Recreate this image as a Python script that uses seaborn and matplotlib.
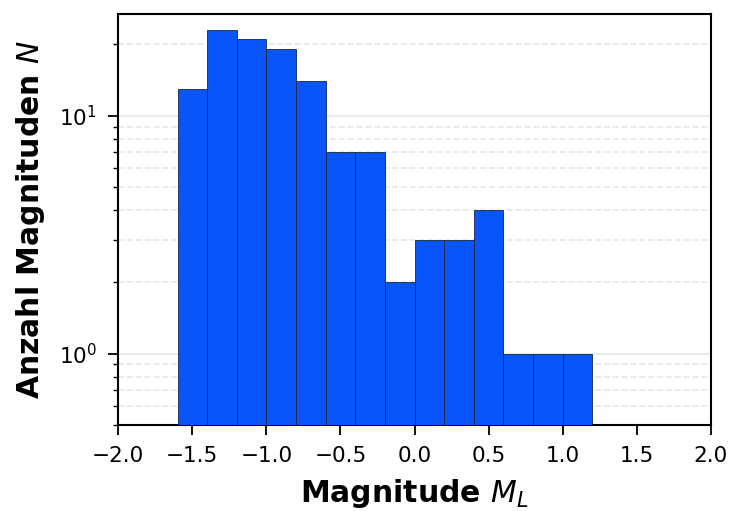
import numpy as np
import matplotlib
matplotlib.use('Agg')
import matplotlib.pyplot as plt
import seaborn as sns
from matplotlib.ticker import LogLocator, NullFormatter

# Histogram data (bin width 0.2)
bin_edges = [-1.6, -1.4, -1.2, -1.0, -0.8, -0.6, -0.4, -0.2, 0.0, 0.2, 0.4, 0.6, 0.8, 1.0, 1.2]
counts = [13, 23, 21, 19, 14, 7, 7, 2, 3, 3, 4, 1, 1, 1]
bin_centers = [(a + b) / 2 for a, b in zip(bin_edges[:-1], bin_edges[1:])]
x_ticks = [-2.0, -1.5, -1.0, -0.5, 0.0, 0.5, 1.0, 1.5, 2.0]

sns.set_style('white')
plt.rcParams['font.family'] = ['DejaVu Sans']
plt.rcParams['text.color'] = 'black'
plt.rcParams['axes.labelcolor'] = 'black'
plt.rcParams['xtick.color'] = 'black'
plt.rcParams['ytick.color'] = 'black'
plt.rcParams['xtick.labelsize'] = 15.5
plt.rcParams['ytick.labelsize'] = 15.5

fig, ax = plt.subplots(figsize=(7.39, 5.11), dpi=100)
fig.subplots_adjust(left=0.16, right=0.962, bottom=0.168, top=0.973)

sns.histplot(x=bin_centers, weights=counts, bins=bin_edges, ax=ax,
             color='#0a55fa', alpha=1.0, edgecolor='#14244a', linewidth=0.6,
             zorder=3)

ax.set_yscale('log')
ax.set_ylim(0.5, 26.8)
ax.set_xlim(-2.0, 2.0)
ax.set_xticks(x_ticks)
ax.yaxis.set_minor_locator(LogLocator(base=10, subs=np.arange(2, 10)))
ax.yaxis.set_minor_formatter(NullFormatter())

# light grid on y only: solid for decades, dashed for minor ticks
ax.grid(True, axis='y', which='major', color='#e6e6e6', linestyle='-', linewidth=1.2, zorder=0)
ax.grid(True, axis='y', which='minor', color='#e6e6e6', linestyle='--', linewidth=1.2, zorder=0)
ax.set_axisbelow(True)

for s in ax.spines.values():
    s.set_color('black')
    s.set_linewidth(1.5)

ax.tick_params(axis='both', which='major', labelsize=15.5, length=7.2, width=1.3,
               direction='out', bottom=True, left=True, pad=8)
ax.tick_params(axis='y', which='minor', length=3.6, width=1.0, left=True)

ax.set_xlabel(r'Magnitude $M_L$', fontsize=21.5, fontweight='bold', labelpad=8)
ax.set_ylabel(r'Anzahl Magnituden $N$', fontsize=21.5, fontweight='bold', labelpad=9)

fig.savefig('out.png', dpi=100)
